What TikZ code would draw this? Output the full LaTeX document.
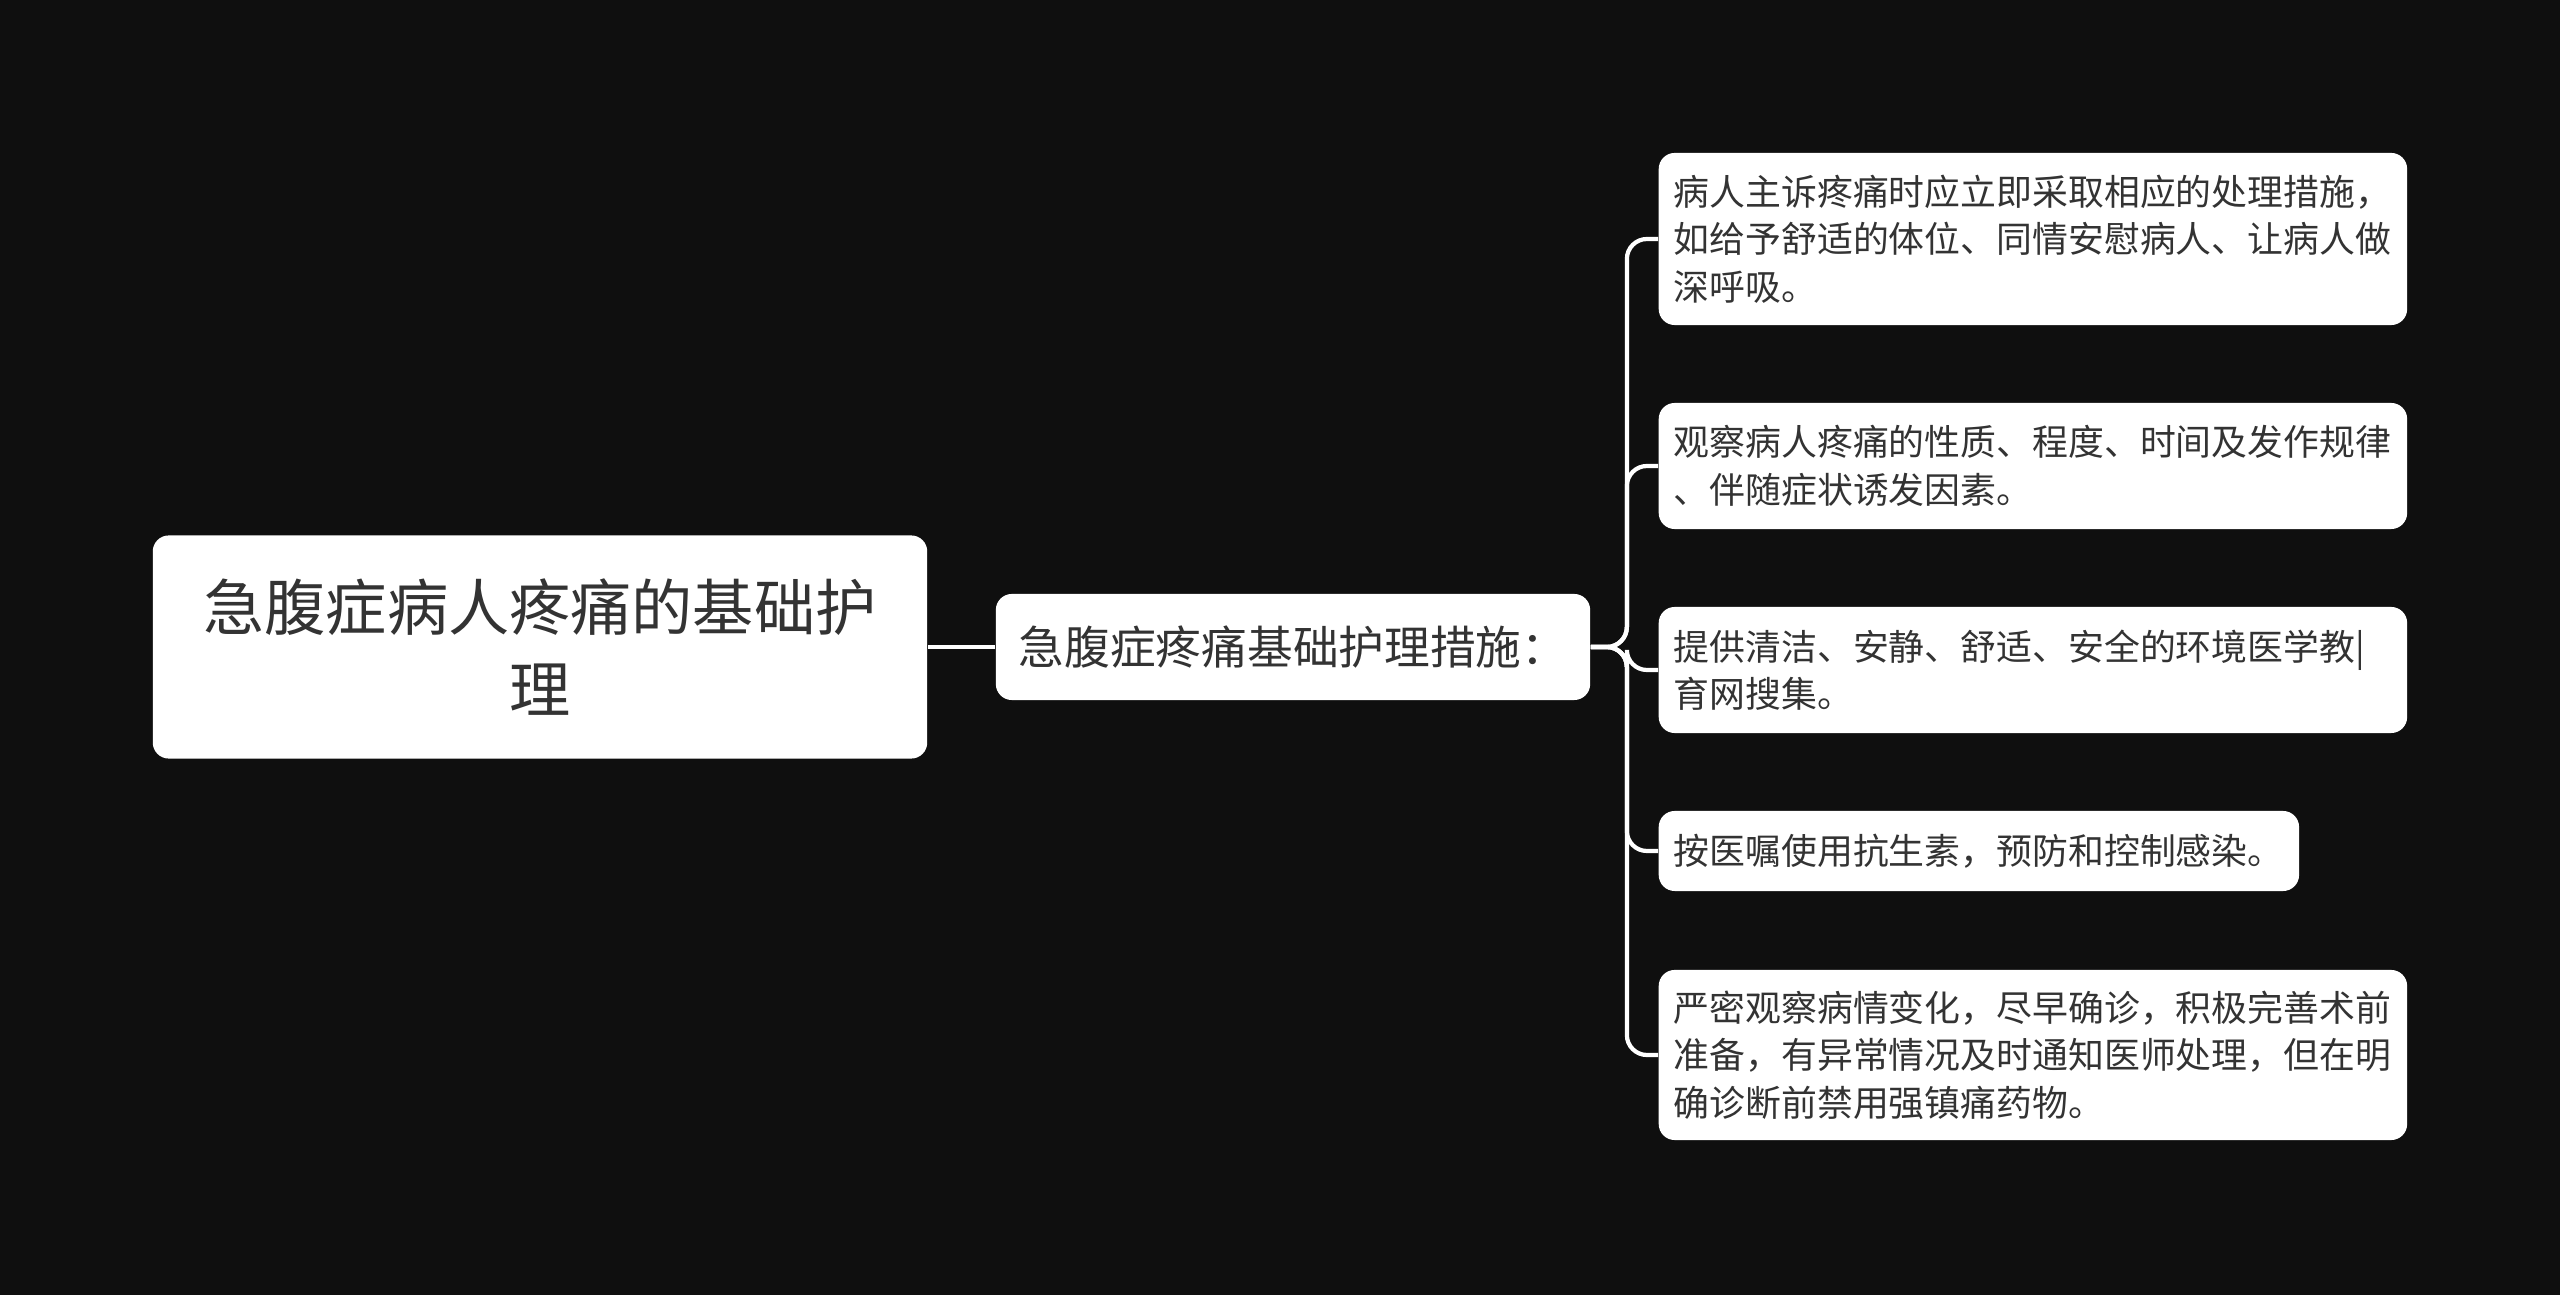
\documentclass[tikz,border=0pt]{standalone}
\usepackage{fontspec}
\newfontfamily\cjk{Noto Sans CJK SC}
\definecolor{bgdark}{HTML}{0F0F0F}
\definecolor{textgray}{HTML}{333333}
\tikzset{
  topicbox/.style={fill=white, rounded corners=0.16cm, text=textgray, inner sep=0pt, font=\cjk},
  rootbox/.style={topicbox, minimum width=7.74cm, minimum height=2.23cm, align=center, font=\cjk\fontsize{17.4pt}{23.2pt}\selectfont},
  midbox/.style={topicbox, minimum width=5.94cm, minimum height=1.06cm, align=center, font=\cjk\fontsize{13pt}{16pt}\selectfont},
  leafbox/.style={topicbox, anchor=west, inner xsep=0.15cm, text width=#1, align=left, font=\cjk\fontsize{10.2pt}{13.5pt}\selectfont},
  branch/.style={draw=white, line width=1.2pt, rounded corners=0.2cm}
}
\begin{document}
\begin{tikzpicture}[x=0.01cm, y=-0.01cm]
                % background and page size
                \fill [bgdark] (0,0) rectangle (2560,1295);%
                \useasboundingbox (0,0) rectangle (2560,1295);%

                % Root topic
                \node [rootbox] (root) at (540,647) {急腹症病人疼痛的基础护\\理};%

                % Main branch
                \node [midbox] (measures) at (1293,647) {急腹症疼痛基础护理措施：};%

                % Leaf: comfort
                \node [leafbox=7.18cm, minimum height=1.72cm] (comfort) at (1658,239)
                  {病人主诉疼痛时应立即采取相应的处理措施，\\如给予舒适的体位、同情安慰病人、让病人做\\深呼吸。};%

                % Leaf: observe
                \node [leafbox=7.18cm, minimum height=1.26cm] (observe) at (1658,466)
                  {观察病人疼痛的性质、程度、时间及发作规律\\、伴随症状诱发因素。};%

                % Leaf: environment
                \node [leafbox=7.18cm, minimum height=1.26cm] (environ) at (1658,670)
                  {提供清洁、安静、舒适、安全的环境医学教|\\育网搜集。};%

                % Leaf: antibiotics
                \node [leafbox=6.10cm, minimum height=0.80cm] (antibio) at (1658,851)
                  {按医嘱使用抗生素，预防和控制感染。};%

                % Leaf: watch condition
                \node [leafbox=7.18cm, minimum height=1.70cm] (watch) at (1658,1055)
                  {严密观察病情变化，尽早确诊，积极完善术前\\准备，有异常情况及时通知医师处理，但在明\\确诊断前禁用强镇痛药物。};%

                % Drawing connectors
                \draw [branch] (root.east) -- (measures.west);%
                \foreach \leaf in {comfort,observe,environ,antibio,watch}
                  \draw [branch] (measures.east) -- ++(36,0) |- (\leaf.west);%
\end{tikzpicture}
\end{document}
